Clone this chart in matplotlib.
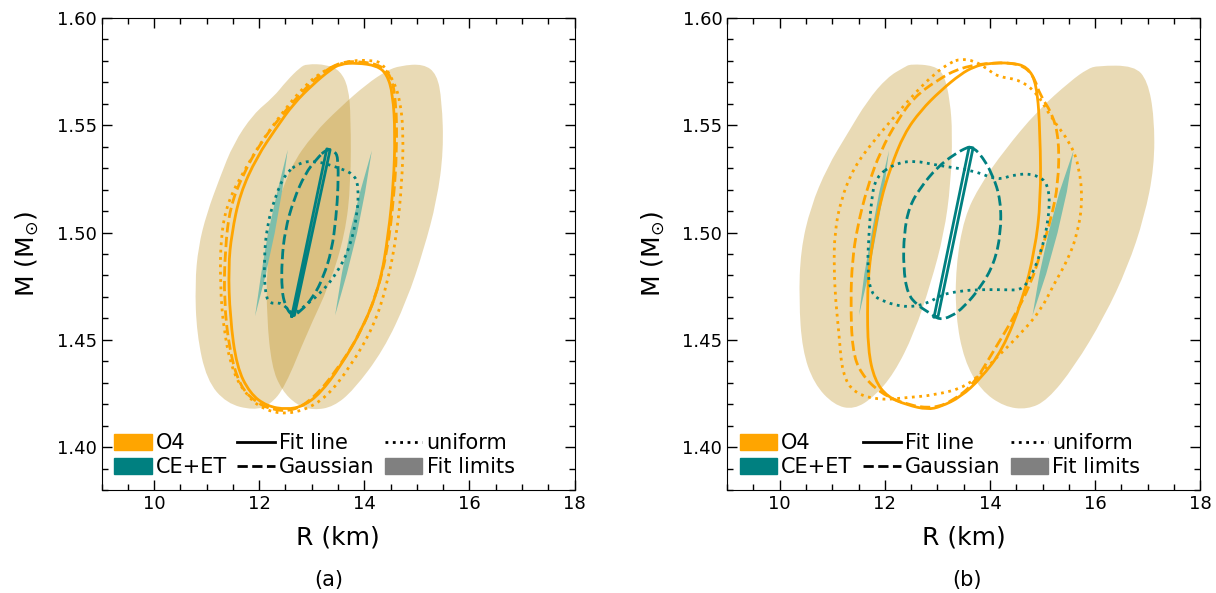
import matplotlib
matplotlib.use("Agg")
import matplotlib.pyplot as plt
import numpy as np
from matplotlib.patches import Patch, PathPatch
from matplotlib.path import Path
from matplotlib.lines import Line2D
from matplotlib.ticker import MultipleLocator

# ---------------- panel (a) ----------------
a_o4_lim1_r = [12.778, 12.905, 13.286, 13.540, 13.698, 13.743, 13.743, 13.635, 13.349, 12.905, 12.492, 12.206,
               11.889, 11.381, 11.000, 10.810, 10.778, 10.841, 11.000, 11.254, 11.508, 11.889, 12.270, 12.524]
a_o4_lim1_m = [1.5770, 1.5786, 1.5783, 1.5755, 1.5677, 1.5538, 1.5227, 1.4995, 1.4762, 1.4529, 1.4281, 1.4196,
               1.4172, 1.4203, 1.4312, 1.4529, 1.4762, 1.4933, 1.5088, 1.5258, 1.5414, 1.5553, 1.5631, 1.5708]
a_o4_lim2_r = [14.429, 14.683, 15.127, 15.381, 15.476, 15.508, 15.381, 15.127, 14.810, 14.365, 13.794, 13.413,
               13.032, 12.714, 12.429, 12.238, 12.143, 12.143, 12.270, 12.587, 13.032, 13.540, 14.048]
a_o4_lim2_m = [1.5755, 1.5778, 1.5786, 1.5739, 1.5615, 1.5382, 1.5150, 1.4917, 1.4684, 1.4452, 1.4265, 1.4188,
               1.4172, 1.4196, 1.4265, 1.4374, 1.4607, 1.4839, 1.5072, 1.5305, 1.5460, 1.5584, 1.5693]
a_ce_lim1_r = [11.921, 12.124, 12.295, 12.435, 12.543, 12.346, 12.168, 12.035]
a_ce_lim1_m = [1.4610, 1.4804, 1.4998, 1.5192, 1.5386, 1.5192, 1.4998, 1.4804]
a_ce_lim2_r = [13.444, 13.667, 13.863, 14.016, 14.143, 13.921, 13.724, 13.571]
a_ce_lim2_m = [1.4614, 1.4807, 1.4999, 1.5190, 1.5382, 1.5190, 1.4999, 1.4807]

a_ce_fit_r = [12.619, 13.286, 13.349, 12.670]
a_ce_fit_m = [1.4610, 1.5390, 1.5386, 1.4614]
a_ce_gauss_r = [13.286, 13.444, 13.502, 13.502, 13.463, 13.381, 13.222, 13.032, 12.778, 12.619, 12.492, 12.429,
                12.429, 12.492, 12.651, 12.873, 13.095]
a_ce_gauss_m = [1.5390, 1.5379, 1.5344, 1.5212, 1.5072, 1.4917, 1.4793, 1.4700, 1.4630, 1.4610, 1.4661, 1.4731,
                1.4870, 1.5010, 1.5150, 1.5274, 1.5344]
a_ce_unif_r = [12.778, 13.095, 13.476, 13.794, 13.889, 13.870, 13.730, 13.476, 13.159, 12.841, 12.638, 12.429,
               12.206, 12.111, 12.092, 12.143, 12.302, 12.492]
a_ce_unif_m = [1.5328, 1.5333, 1.5305, 1.5274, 1.5220, 1.5088, 1.4933, 1.4808, 1.4715, 1.4653, 1.4614, 1.4676,
               1.4666, 1.4715, 1.4870, 1.5026, 1.5165, 1.5274]

a_o4_fit_r = [13.540, 13.857, 14.238, 14.429, 14.543, 14.587, 14.556, 14.460, 14.302, 13.984, 13.540, 13.159,
              12.841, 12.524, 12.143, 11.825, 11.571, 11.444, 11.413, 11.476, 11.635, 11.952, 12.333, 12.651,
              13.032, 13.349]
a_o4_fit_m = [1.5786, 1.5791, 1.5778, 1.5739, 1.5646, 1.5460, 1.5227, 1.4995, 1.4762, 1.4560, 1.4374, 1.4250,
              1.4191, 1.4175, 1.4191, 1.4250, 1.4374, 1.4607, 1.4839, 1.4995, 1.5181, 1.5351, 1.5491, 1.5600,
              1.5693, 1.5758]
a_o4_gauss_r = [13.540, 13.921, 14.302, 14.505, 14.606, 14.619, 14.556, 14.441, 14.238, 13.921, 13.476, 13.032,
                12.651, 12.270, 11.952, 11.635, 11.432, 11.330, 11.349, 11.444, 11.698, 12.016, 12.397, 12.778,
                13.159]
a_o4_gauss_m = [1.5795, 1.5798, 1.5781, 1.5732, 1.5615, 1.5382, 1.5150, 1.4917, 1.4715, 1.4529, 1.4358, 1.4227,
                1.4169, 1.4172, 1.4206, 1.4281, 1.4452, 1.4684, 1.4917, 1.5119, 1.5274, 1.5414, 1.5538, 1.5646,
                1.5739]
a_o4_unif_r = [13.667, 14.175, 14.352, 14.556, 14.683, 14.746, 14.714, 14.619, 14.441, 14.175, 13.730, 13.286,
               12.841, 12.397, 12.016, 11.762, 11.508, 11.330, 11.254, 11.273, 11.413, 11.698, 12.016, 12.397,
               12.778, 13.159]
a_o4_unif_m = [1.5801, 1.5804, 1.5786, 1.5708, 1.5615, 1.5460, 1.5227, 1.4995, 1.4762, 1.4560, 1.4374, 1.4234,
               1.4169, 1.4154, 1.4185, 1.4242, 1.4343, 1.4529, 1.4762, 1.4995, 1.5150, 1.5282, 1.5414, 1.5545,
               1.5662, 1.5747]

# ---------------- panel (b) ----------------
b_o4_lim1_r = [12.365, 12.492, 12.937, 13.127, 13.241, 13.286, 13.254, 13.127, 12.873, 12.556, 12.175, 11.794,
               11.413, 11.032, 10.651, 10.429, 10.365, 10.397, 10.587, 10.905, 11.286, 11.667, 12.048]
b_o4_lim1_m = [1.5770, 1.5786, 1.5778, 1.5739, 1.5615, 1.5460, 1.5227, 1.4995, 1.4762, 1.4529, 1.4343, 1.4234,
               1.4175, 1.4196, 1.4296, 1.4452, 1.4684, 1.4917, 1.5119, 1.5305, 1.5460, 1.5615, 1.5724]
b_o4_lim2_r = [15.857, 16.048, 16.746, 17.000, 17.127, 17.127, 16.937, 16.619, 16.175, 15.603, 15.095, 14.714,
               14.270, 13.825, 13.508, 13.349, 13.349, 13.508, 13.825, 14.270, 14.905, 15.540]
b_o4_lim2_m = [1.5763, 1.5778, 1.5778, 1.5708, 1.5538, 1.5305, 1.5072, 1.4839, 1.4607, 1.4374, 1.4219, 1.4175,
               1.4188, 1.4265, 1.4405, 1.4607, 1.4839, 1.5072, 1.5227, 1.5382, 1.5569, 1.5708]
b_ce_lim1_r = [11.508, 11.692, 11.838, 11.978, 12.079, 11.895, 11.749, 11.610]
b_ce_lim1_m = [1.4614, 1.4807, 1.4999, 1.5190, 1.5382, 1.5190, 1.4999, 1.4807]
b_ce_lim2_r = [14.810, 15.070, 15.286, 15.463, 15.590, 15.324, 15.114, 14.943]
b_ce_lim2_m = [1.4614, 1.4807, 1.4999, 1.5190, 1.5382, 1.5190, 1.4999, 1.4807]

b_ce_fit_r = [12.937, 13.603, 13.679, 13.013]
b_ce_fit_m = [1.4607, 1.5398, 1.5395, 1.4610]
b_ce_gauss_r = [13.635, 13.794, 14.048, 14.206, 14.206, 14.079, 13.825, 13.508, 13.254, 13.032, 12.873, 12.619,
                12.429, 12.352, 12.365, 12.460, 12.683, 13.000, 13.317, 13.571]
b_ce_gauss_m = [1.5398, 1.5375, 1.5274, 1.5150, 1.4995, 1.4855, 1.4746, 1.4653, 1.4607, 1.4594, 1.4622, 1.4661,
                1.4715, 1.4839, 1.4995, 1.5119, 1.5212, 1.5305, 1.5364, 1.5398]
b_ce_unif_r = [12.175, 12.556, 13.000, 13.698, 14.143, 14.460, 14.841, 15.127, 15.127, 14.968, 14.746, 14.587,
               14.270, 13.698, 13.317, 13.063, 12.810, 12.429, 11.984, 11.730, 11.667, 11.698, 11.743, 11.825]
b_ce_unif_m = [1.5320, 1.5336, 1.5313, 1.5289, 1.5243, 1.5271, 1.5274, 1.5227, 1.5072, 1.4901, 1.4777, 1.4731,
               1.4734, 1.4734, 1.4723, 1.4708, 1.4669, 1.4650, 1.4676, 1.4715, 1.4839, 1.4995, 1.5150, 1.5258]

b_o4_fit_r = [13.952, 14.397, 14.714, 14.892, 14.956, 14.968, 14.854, 14.619, 14.238, 13.825, 13.444, 13.063,
              12.810, 12.429, 12.048, 11.806, 11.679, 11.667, 11.698, 11.794, 11.921, 12.111, 12.365, 12.683,
              13.063, 13.444, 13.698]
b_o4_fit_m = [1.5789, 1.5792, 1.5773, 1.5693, 1.5460, 1.5150, 1.4917, 1.4684, 1.4452, 1.4320, 1.4234, 1.4188,
              1.4175, 1.4196, 1.4234, 1.4312, 1.4452, 1.4684, 1.4839, 1.4995, 1.5150, 1.5305, 1.5460, 1.5569,
              1.5662, 1.5739, 1.5773]
b_o4_gauss_r = [14.079, 14.587, 14.829, 14.956, 15.190, 15.317, 15.298, 15.171, 14.981, 14.778, 14.460, 14.079,
                13.698, 13.317, 12.937, 12.429, 11.921, 11.540, 11.381, 11.349, 11.381, 11.476, 11.667, 11.921,
                12.238, 12.556, 13.000, 13.444]
b_o4_gauss_m = [1.5794, 1.5786, 1.5732, 1.5638, 1.5553, 1.5429, 1.5227, 1.5072, 1.4917, 1.4762, 1.4607, 1.4452,
                1.4296, 1.4219, 1.4180, 1.4196, 1.4250, 1.4343, 1.4452, 1.4684, 1.4870, 1.5026, 1.5212, 1.5382,
                1.5522, 1.5631, 1.5711, 1.5770]
b_o4_unif_r = [13.444, 13.698, 13.952, 14.143, 14.587, 14.905, 15.159, 15.540, 15.698, 15.762, 15.667, 15.476,
               15.222, 14.968, 14.587, 14.079, 13.571, 12.937, 12.429, 11.921, 11.413, 11.190, 11.127, 11.063,
               11.032, 11.044, 11.159, 11.413, 11.794, 12.175, 12.556, 12.937, 13.254]
b_o4_unif_m = [1.5809, 1.5801, 1.5763, 1.5727, 1.5711, 1.5646, 1.5538, 1.5414, 1.5305, 1.5150, 1.4995, 1.4870,
               1.4762, 1.4638, 1.4529, 1.4405, 1.4281, 1.4242, 1.4231, 1.4219, 1.4250, 1.4343, 1.4529, 1.4684,
               1.4839, 1.4995, 1.5150, 1.5305, 1.5429, 1.5538, 1.5646, 1.5739, 1.5794]

panels = {
    "a": dict(lims_o4=[(a_o4_lim1_r, a_o4_lim1_m), (a_o4_lim2_r, a_o4_lim2_m)],
              lims_ce=[(a_ce_lim1_r, a_ce_lim1_m), (a_ce_lim2_r, a_ce_lim2_m)],
              ce_fit=(a_ce_fit_r, a_ce_fit_m),
              ce=[(a_ce_gauss_r, a_ce_gauss_m, "--"), (a_ce_unif_r, a_ce_unif_m, ":")],
              o4=[(a_o4_fit_r, a_o4_fit_m, "-"), (a_o4_gauss_r, a_o4_gauss_m, "--"), (a_o4_unif_r, a_o4_unif_m, ":")]),
    "b": dict(lims_o4=[(b_o4_lim1_r, b_o4_lim1_m), (b_o4_lim2_r, b_o4_lim2_m)],
              lims_ce=[(b_ce_lim1_r, b_ce_lim1_m), (b_ce_lim2_r, b_ce_lim2_m)],
              ce_fit=(b_ce_fit_r, b_ce_fit_m),
              ce=[(b_ce_gauss_r, b_ce_gauss_m, "--"), (b_ce_unif_r, b_ce_unif_m, ":")],
              o4=[(b_o4_fit_r, b_o4_fit_m, "-"), (b_o4_gauss_r, b_o4_gauss_m, "--"), (b_o4_unif_r, b_o4_unif_m, ":")]),
}


def smooth_path(x, y):
    # closed quadratic-bezier path: read points act as control points
    pts = np.column_stack([x, y])
    n = len(pts)
    mids = (pts + np.roll(pts, -1, axis=0)) / 2
    verts = [mids[-1]]
    codes = [Path.MOVETO]
    for i in range(n):
        verts += [pts[i], mids[i]]
        codes += [Path.CURVE3, Path.CURVE3]
    return Path(verts, codes)


fig = plt.figure(figsize=(12.16, 5.93), dpi=100)
lefts = [0.0835, 0.598]
caption_x = [0.270, 0.795]
for left, cx, (name, p) in zip(lefts, caption_x, panels.items()):
    ax = fig.add_axes([left, 0.1737, 0.389, 0.7959])
    for r, m in p["lims_o4"]:
        ax.add_patch(PathPatch(smooth_path(r, m), facecolor="darkgoldenrod", alpha=0.3, lw=0))
    for r, m in p["lims_ce"]:
        ax.fill(r, m, color="#7dbeab", lw=0)
    for r, m, ls in p["o4"]:
        ax.add_patch(PathPatch(smooth_path(r, m), fill=False, edgecolor="orange", ls=ls, lw=2))
    for r, m, ls in p["ce"]:
        ax.add_patch(PathPatch(smooth_path(r, m), fill=False, edgecolor="teal", ls=ls, lw=2))
    r, m = p["ce_fit"]
    ax.plot(list(r) + [r[0]], list(m) + [m[0]], color="teal", lw=2)

    ax.set_xlim(9, 18)
    ax.set_ylim(1.38, 1.60)
    ax.xaxis.set_major_locator(MultipleLocator(2))
    ax.xaxis.set_minor_locator(MultipleLocator(0.5))
    ax.yaxis.set_major_locator(MultipleLocator(0.05))
    ax.yaxis.set_minor_locator(MultipleLocator(0.01))
    ax.tick_params(which="both", direction="in", top=True, right=True, labelsize=13)
    ax.tick_params(which="major", length=7, width=1)
    ax.tick_params(which="minor", length=4, width=1)
    ax.set_xlabel("R (km)", fontsize=18, labelpad=9)
    ax.set_ylabel(r"M (M$_{\odot}$)", fontsize=18, labelpad=11)

    handles = [Patch(color="orange"), Patch(color="teal"),
               Line2D([], [], color="black", ls="-", lw=2), Line2D([], [], color="black", ls="--", lw=2),
               Line2D([], [], color="black", ls=":", lw=2), Patch(color="gray")]
    labels = ["O4", "CE+ET", "Fit line", "Gaussian", "uniform", "Fit limits"]
    ax.legend(handles, labels, loc="lower left", ncol=3, frameon=False, fontsize=15,
              handlelength=1.8, handleheight=0.8, handletextpad=0.2, columnspacing=0.5,
              labelspacing=0.2, borderaxespad=0.4, borderpad=0.2)

    fig.text(cx, 0.022, "(%s)" % name, ha="center", va="center", fontsize=15)

fig.savefig("out.png", dpi=100)
